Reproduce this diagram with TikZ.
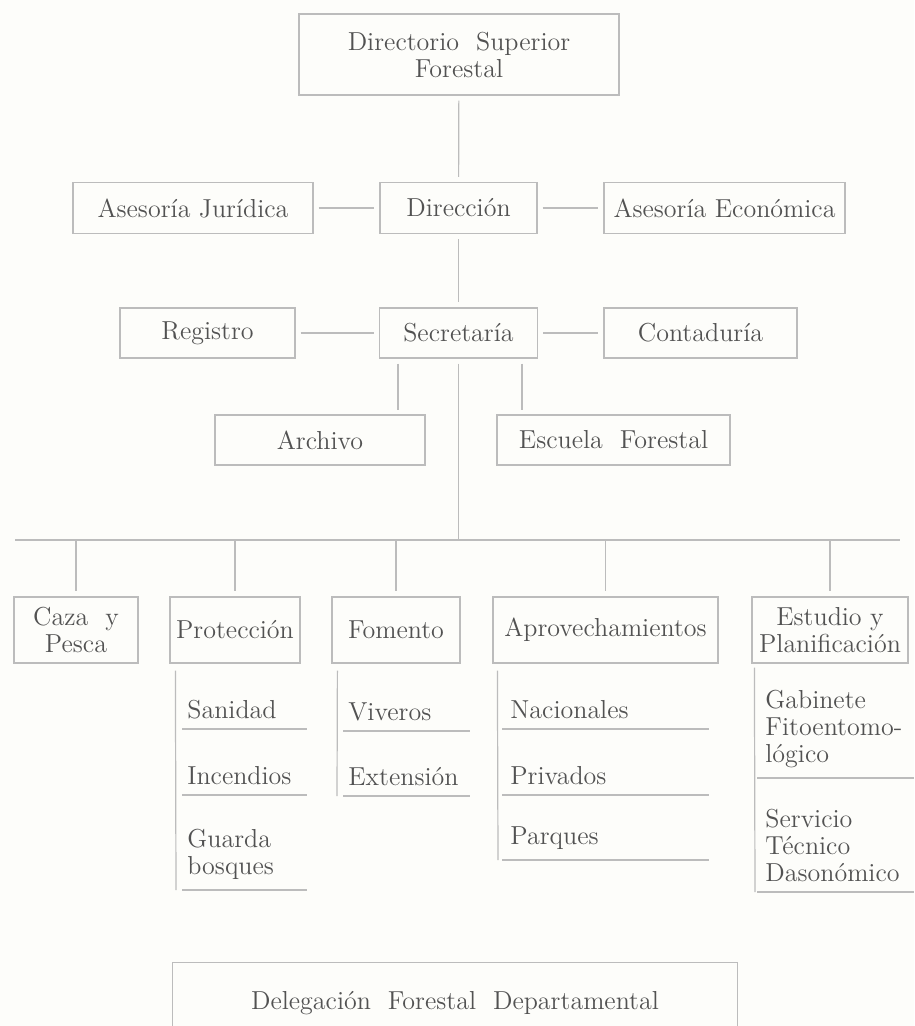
\documentclass[tikz,border=0pt]{standalone}
\usetikzlibrary{positioning}
\definecolor{inkgray}{HTML}{525252}
\definecolor{rulegray}{HTML}{BCBCBC}
\definecolor{paper}{HTML}{FDFDFA}
\begin{document}
\begin{tikzpicture}[x=0.5pt, y=-0.5pt, every node/.style={font=\fontsize{13}{13.5}\selectfont, text=inkgray},
  unit/.style={draw=rulegray, line width=0.6pt, align=center, inner sep=0pt},
  link/.style={draw=rulegray, line width=0.6pt, shorten <=2.5pt, shorten >=2.5pt},
  rule/.style={draw=rulegray, line width=0.6pt},
  item/.style={anchor=south west, align=left, inner xsep=2.5pt, inner ysep=5pt}]
\useasboundingbox (0,0) rectangle (914,1026);
\fill[paper] (0,0) rectangle (914,1026);
\clip (0,0) rectangle (914,1026);
\node[unit, minimum width=160pt, minimum height=40.5pt] (dsf) at (459,54.5) {Directorio\ \ Superior\\Forestal};
\node[unit, minimum width=120pt, minimum height=25.5pt] (aj) at (193,208) {Asesoría Jurídica};
\node[unit, minimum width=78.5pt, minimum height=25.5pt] (dir) at (458.5,208) {Dirección};
\node[unit, minimum width=120.5pt, minimum height=25.5pt] (ae) at (724.5,208) {Asesoría Económica};
\node[unit, minimum width=87.5pt, minimum height=25pt] (reg) at (207.5,333) {Registro};
\node[unit, minimum width=79pt, minimum height=25pt] (sec) at (458.5,333) {Secretaría};
\node[unit, minimum width=96.5pt, minimum height=25pt] (con) at (700.5,333) {Contaduría};
\node[unit, minimum width=105pt, minimum height=25pt] (arc) at (320,440) {Archivo};
\node[unit, minimum width=116.5pt, minimum height=25pt] (esc) at (613.5,440) {Escuela\ \ Forestal};
\draw[link] (dsf) -- (dir);
\draw[link] (aj) -- (dir);
\draw[link] (dir) -- (ae);
\draw[link] (dir) -- (sec);
\draw[link] (reg) -- (sec);
\draw[link] (sec) -- (con);
\coordinate (arctop) at (398,415); \coordinate (esctop) at (522,415);
\draw[link] (arctop |- sec.south) -- (arctop);
\draw[link] (esctop |- sec.south) -- (esctop);
\coordinate (barL) at (15,540); \coordinate (barR) at (900,540);
\draw[rule] (barL) -- (barR);
\draw[link, shorten >=0pt] (sec) -- (sec |- barL);
\node[unit, minimum width=62pt, minimum height=33pt] (caza) at (76,630) {Caza\ \ y\\Pesca};
\node[unit, minimum width=65pt, minimum height=33pt] (prot) at (235,630) {Protección};
\node[unit, minimum width=64pt, minimum height=33pt] (fom) at (396,630) {Fomento};
\node[unit, minimum width=112.5pt, minimum height=33pt] (apr) at (605.5,630) {Aprovechamientos};
\node[unit, minimum width=78pt, minimum height=33pt] (est) at (830,630) {Estudio y\\Planificación};
\foreach \n in {caza,prot,fom,apr,est}
  \draw[link, shorten <=0pt] (\n.north |- barL) -- (\n.north);
\node[item, text width=57pt] (san) at (182,729) {Sanidad};
\node[item, text width=57pt] (inc) at (182,795) {Incendios};
\node[item, text width=57pt] (gua) at (182,890) {Guarda\\bosques};
\node[item, text width=58pt] (viv) at (343,731) {Viveros};
\node[item, text width=58pt] (ext) at (343,796) {Extensión};
\node[item, text width=95pt, inner xsep=4pt] (nac) at (502,729) {Nacionales};
\node[item, text width=95pt, inner xsep=4pt] (pri) at (502,795) {Privados};
\node[item, text width=95pt, inner xsep=4pt] (par) at (502,860) {Parques};
\node[item, text width=70pt, inner xsep=4pt] (gab) at (757,778) {Gabinete\\Fitoentomo-\\lógico};
\node[item, text width=70pt, inner xsep=4pt] (ser) at (757,892) {Servicio\\Técnico\\Dasonómico};
\foreach \n in {san,inc,gua,viv,ext,nac,pri,par,gab,ser}
  \draw[rule] (\n.south west) -- (\n.south east);
\draw[rule] ([shift={(3pt,-3.5pt)}]prot.south west) -- ([xshift=-3pt]gua.south west);
\draw[rule] ([shift={(3pt,-3.5pt)}]fom.south west) -- ([xshift=-3pt]ext.south west);
\draw[rule] ([shift={(2.5pt,-3.5pt)}]apr.south west) -- ([xshift=-2pt]par.south west);
\draw[rule] ([shift={(1.5pt,-2pt)}]est.south west) -- ([xshift=-1pt]ser.south west);
\node[unit, anchor=north, minimum width=282.5pt, text height=18.5pt, text depth=20pt, inner ysep=5pt] (del) at (455,962) {Delegación\ \ Forestal\ \ Departamental};
\end{tikzpicture}
\end{document}
